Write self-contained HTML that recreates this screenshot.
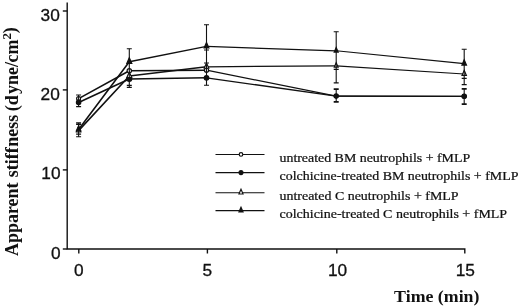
<!DOCTYPE html><html><head><meta charset="utf-8"><title>chart</title><style>html,body{margin:0;padding:0;background:#fff}svg{display:block}</style></head><body>
<svg width="520" height="308" viewBox="0 0 520 308">
<rect width="520" height="308" fill="#fff"/>
<g stroke="#111" stroke-width="1.4" fill="none">
<path d="M67.2 2.5V249H464.8V253.5"/>
<path d="M62.8 11.0H67.2"/>
<path d="M62.8 89.9H67.2"/>
<path d="M62.8 169.9H67.2"/>
<path d="M62.8 249H67.2"/>
<path d="M78.8 249V253.5"/>
<path d="M207.4 249V253.5"/>
<path d="M336.8 249V253.5"/>
</g>
<g stroke="#111" fill="none" stroke-linecap="round">
<path stroke-width="1.6" d="M78.6 102.4L129.3 79"/>
<path stroke-width="1.4" d="M129.3 79L206.5 77.8"/>
<path stroke-width="1.25" d="M206.5 77.8L336.2 96.1"/>
<path stroke-width="1.15" d="M336.2 96.1L464.2 96.3"/>
<path stroke-width="1.6" d="M78.6 98.6L129.3 70.8"/>
<path stroke-width="1.4" d="M129.3 70.8L206.5 70.2"/>
<path stroke-width="1.25" d="M206.5 70.2L336.2 96.1"/>
<path stroke-width="1.15" d="M336.2 96.1L464.2 96.3"/>
<path stroke-width="1.6" d="M78.6 130.6L129.3 76"/>
<path stroke-width="1.4" d="M129.3 76L206.5 66.8"/>
<path stroke-width="1.25" d="M206.5 66.8L336.2 65.9"/>
<path stroke-width="1.15" d="M336.2 65.9L464.2 74"/>
<path stroke-width="1.6" d="M78.6 129.4L129.3 61.8"/>
<path stroke-width="1.4" d="M129.3 61.8L206.5 46.4"/>
<path stroke-width="1.25" d="M206.5 46.4L336.2 50.8"/>
<path stroke-width="1.15" d="M336.2 50.8L464.2 63.6"/>
</g>
<circle cx="78.6" cy="98.6" r="1.9800000000000002" fill="#fff" stroke="#111" stroke-width="1.2"/>
<circle cx="129.3" cy="70.8" r="2.1780000000000004" fill="#fff" stroke="#111" stroke-width="1.2"/>
<circle cx="206.5" cy="70.2" r="2.0790000000000006" fill="#fff" stroke="#111" stroke-width="1.2"/>
<circle cx="336.2" cy="96.1" r="1.7424000000000002" fill="#fff" stroke="#111" stroke-width="1.2"/>
<circle cx="464.2" cy="96.3" r="1.9800000000000002" fill="#fff" stroke="#111" stroke-width="1.2"/>
<circle cx="78.6" cy="102.4" r="2.184" fill="#111" stroke="#111" stroke-width="1.2"/>
<circle cx="129.3" cy="79" r="2.4024000000000005" fill="#111" stroke="#111" stroke-width="1.2"/>
<circle cx="206.5" cy="77.8" r="2.2932" fill="#111" stroke="#111" stroke-width="1.2"/>
<circle cx="336.2" cy="96.1" r="2.184" fill="#111" stroke="#111" stroke-width="1.2"/>
<circle cx="464.2" cy="96.3" r="2.184" fill="#111" stroke="#111" stroke-width="1.2"/>
<path d="M78.6 126.93L80.81 132.00H76.39Z" fill="#fff" stroke="#111" stroke-width="1.15"/>
<path d="M129.3 71.96L131.74 77.54H126.86Z" fill="#fff" stroke="#111" stroke-width="1.15"/>
<path d="M206.5 62.94L208.82 68.27H204.18Z" fill="#fff" stroke="#111" stroke-width="1.15"/>
<path d="M336.2 62.67L338.15 67.14H334.25Z" fill="#fff" stroke="#111" stroke-width="1.15"/>
<path d="M464.2 70.33L466.41 75.40H461.99Z" fill="#fff" stroke="#111" stroke-width="1.15"/>
<path d="M78.6 125.59L80.90 130.86H76.30Z" fill="#111" stroke="#111" stroke-width="1.15"/>
<path d="M129.3 57.61L131.83 63.40H126.77Z" fill="#111" stroke="#111" stroke-width="1.15"/>
<path d="M206.5 42.40L208.91 47.93H204.09Z" fill="#111" stroke="#111" stroke-width="1.15"/>
<path d="M336.2 47.45L338.22 52.08H334.18Z" fill="#111" stroke="#111" stroke-width="1.15"/>
<path d="M464.2 59.79L466.50 65.06H461.90Z" fill="#111" stroke="#111" stroke-width="1.15"/>
<g stroke="#111" stroke-width="1.1" fill="none">
<path d="M78.6 95V106.7"/>
<path stroke-width="1.2" d="M76.1 95H81.1M76.1 106.7H81.1"/>
<path d="M78.6 122.9V136.7"/>
<path stroke-width="1.1" d="M76.1 122.9H81.1M76.1 124.4H81.1M76.1 134.1H81.1M76.1 136.7H81.1"/>
<path d="M129.3 48.8V87.4"/>
<path stroke-width="1.1" d="M126.80000000000001 48.8H131.8M126.80000000000001 85.4H131.8M126.80000000000001 87.4H131.8"/>
<path d="M206.5 24.7V85.3"/>
<path stroke-width="1.1" d="M204.0 24.7H209.0M204.0 50H209.0M204.0 63H209.0M204.0 85.3H209.0"/>
<path d="M336.2 31.8V82.9"/>
<path stroke-width="1.1" d="M333.7 31.8H338.7M333.7 69.4H338.7M333.7 82.9H338.7"/>
<path d="M336.2 89.1V101.9"/>
<path stroke-width="1.8" d="M333.7 89.1H338.7M333.7 101.9H338.7"/>
<path d="M464.2 49.2V84.6"/>
<path stroke-width="1.1" d="M461.7 49.2H466.7M461.7 78.4H466.7M461.7 84.6H466.7"/>
<path d="M464.2 88.8V104.2"/>
<path stroke-width="1.8" d="M461.7 88.8H466.7M461.7 104.2H466.7"/>
</g>
<g stroke="#111" stroke-width="1.05">
<path d="M215.5 154.4H264.5"/>
<path d="M215.5 172.6H264.5"/>
<path d="M215.5 192.7H264.5"/>
<path d="M215.5 210.6H264.5"/>
</g>
<circle cx="241" cy="154.4" r="1.8" fill="#fff" stroke="#111" stroke-width="1.2"/>
<circle cx="241" cy="172.6" r="1.95" fill="#111" stroke="#111" stroke-width="1.2"/>
<path d="M241 189.30L243.05 194.00H238.95Z" fill="#fff" stroke="#111" stroke-width="1.15"/>
<path d="M241 207.20L243.05 211.90H238.95Z" fill="#111" stroke="#111" stroke-width="1.15"/>
<g font-family="'Liberation Serif',serif" font-size="13.9" fill="#111" stroke="#111" stroke-width="0.25">
<text font-size="13.9" transform="translate(279.5 161.8) scale(1 0.93)">untreated BM neutrophils + fMLP</text>
<text font-size="13.93" transform="translate(279.5 179.5) scale(1 0.93)">colchicine-treated BM neutrophils + fMLP</text>
<text font-size="13.97" transform="translate(279.5 199.5) scale(1 0.93)">untreated C neutrophils + fMLP</text>
<text font-size="14.0" transform="translate(279.5 218) scale(1 0.93)">colchicine-treated C neutrophils + fMLP</text>
</g>
<g font-family="'Liberation Sans',sans-serif" font-size="17.3" fill="#111" stroke="#111" stroke-width="0.3">
<text x="59.8" y="21.3" text-anchor="end">30</text>
<text x="59.8" y="100.0" text-anchor="end">20</text>
<text x="60.5" y="179.3" text-anchor="end">10</text>
<text x="60.6" y="259" text-anchor="end">0</text>
<text x="78.8" y="275.8" text-anchor="middle">0</text>
<text x="207.3" y="275.8" text-anchor="middle">5</text>
<text x="337.5" y="275.8" text-anchor="middle">10</text>
<text x="465.3" y="275.8" text-anchor="middle">15</text>
</g>
<g font-family="'Liberation Serif',serif" font-weight="bold" fill="#111">
<text transform="translate(394.1 302.45) scale(1 0.955)" font-size="17.85">Time (min)</text>
<text transform="translate(17.8 256.1) rotate(-90)" font-size="18">Apparent<tspan dx="0.7"> stiff</tspan><tspan dx="0.5">ness</tspan><tspan dx="-1.1"> (d</tspan><tspan dx="1.2">yne/</tspan><tspan dx="-0.4">cm</tspan><tspan dy="-6.6" font-size="13">2</tspan><tspan dy="4.8" dx="-0.2">)</tspan></text>
</g>
</svg></body></html>
